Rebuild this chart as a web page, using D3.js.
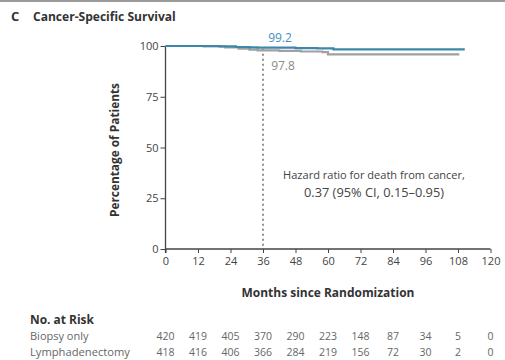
<!DOCTYPE html>
<html><head><meta charset="utf-8">
<script src="https://cdn.jsdelivr.net/npm/d3@7"></script>
<style>
body{margin:0;background:#fff;}
svg{display:block;font-family:"Open Sans",Lato,sans-serif;}
</style></head>
<body>
<svg id="c" width="505" height="360"></svg>
<script>
const xTicks = [0,12,24,36,48,60,72,84,96,108,120];
const yTicks = [0,25,50,75,100];
const biopsyMonths = [0,14,22,27,31,34,42,50,58,60,108.5];
const biopsyValues = [100,99.8,99.3,98.7,98.2,97.8,97.6,97.3,97.0,95.9,95.9];
const lymphMonths = [0,20,26,31,34,48,56,62,110.5];
const lymphValues = [100,99.8,99.5,99.3,99.2,99.0,98.8,98.3,98.3];
const riskGroups = ["Biopsy only","Lymphadenectomy"];
const riskBiopsy = [420,419,405,370,290,223,148,87,34,5,0];
const riskLymph = [418,416,406,366,284,219,156,72,30,2,0];

const FONT = "'Open Sans'";
const svg = d3.select("#c");
const x = d3.scaleLinear().domain([0,120]).range([165.5,490.5]);
const y = d3.scaleLinear().domain([0,100]).range([249,46]);

// fit text to target width
function fit(sel, w){ const n = sel.node(); const l = n.getComputedTextLength(); if(l>0){ const fs = parseFloat(sel.attr("font-size")); sel.attr("font-size", (fs*w/l).toFixed(2)); } return sel; }

// top border
svg.append("line").attr("x1",0).attr("x2",505).attr("y1",1).attr("y2",1).attr("stroke","#9a9a9a").attr("stroke-width",2);

// title
svg.append("text").attr("x",11).attr("y",21).attr("fill","#333").attr("font-weight","bold").attr("font-size",13).text("C");
fit(svg.append("text").attr("x",33).attr("y",21).attr("fill","#333").attr("font-weight","bold").attr("font-size",12).text("Cancer-Specific Survival"),143);

// axes
const xAxis = d3.axisBottom(x).tickValues(xTicks).tickSize(4).tickPadding(4);
const gx = svg.append("g").attr("transform","translate(0,249)").call(xAxis);
gx.select(".domain").attr("stroke","#444").attr("stroke-width",1.3).attr("d","M165.5,0H490.5");
gx.selectAll(".tick line").attr("stroke","#444");
gx.selectAll("text").attr("font-size",11).attr("fill","#444").attr("font-family",FONT);

const yAxis = d3.axisLeft(y).tickValues(yTicks).tickSize(5).tickPadding(2);
const gy = svg.append("g").attr("transform","translate(165.5,0)").call(yAxis);
gy.select(".domain").attr("stroke","#444").attr("stroke-width",1.3).attr("d","M0,46V253");
gy.selectAll(".tick line").attr("stroke","#444");
gy.selectAll("text").attr("font-size",11).attr("fill","#444").attr("font-family",FONT);

// axis titles
fit(svg.append("text").attr("transform","translate(119,150) rotate(-90)").attr("text-anchor","middle")
  .attr("font-size",11.5).attr("font-weight","bold").attr("fill","#333").text("Percentage of Patients"),134);
fit(svg.append("text").attr("x",328).attr("y",297).attr("text-anchor","middle")
  .attr("font-size",11.5).attr("font-weight","bold").attr("fill","#333").text("Months since Randomization"),173);

// 36-month dashed line
svg.append("line").attr("x1",x(36)).attr("x2",x(36)).attr("y1",y(98.6)).attr("y2",y(0))
  .attr("stroke","#555").attr("stroke-width",1.3).attr("stroke-dasharray","2,3");

// curves
const line = d3.line().x(d=>x(d[0])).y(d=>y(d[1])).curve(d3.curveStepAfter);
const bData = biopsyMonths.map((m,i)=>[m,biopsyValues[i]]);
const lData = lymphMonths.map((m,i)=>[m,lymphValues[i]]);
svg.append("path").datum(bData).attr("d",line).attr("fill","none").attr("stroke","#a0a0a0").attr("stroke-width",2.2);
svg.append("path").datum(lData).attr("d",line).attr("fill","none").attr("stroke","#3f86ad").attr("stroke-width",2.2);

// labels
svg.append("text").attr("x",x(36)+17).attr("y",42).attr("text-anchor","middle").attr("font-size",12).attr("fill","#3f8fbf").text("99.2");
svg.append("text").attr("x",x(36)+20).attr("y",70).attr("text-anchor","middle").attr("font-size",12).attr("fill","#8a8a8a").text("97.8");

// hazard ratio
fit(svg.append("text").attr("x",374).attr("y",179).attr("text-anchor","middle").attr("font-size",11).attr("fill","#444").text("Hazard ratio for death from cancer,"),182);
fit(svg.append("text").attr("x",374).attr("y",197).attr("text-anchor","middle").attr("font-size",11).attr("fill","#444").text("0.37 (95% CI, 0.15\u20130.95)"),140);

// risk table
fit(svg.append("text").attr("x",30).attr("y",324).attr("font-size",11.5).attr("font-weight","bold").attr("fill","#333").text("No. at Risk"),64);
const rows = [riskBiopsy, riskLymph];
rows.forEach((r,i)=>{
  const yy = 340 + i*15.5;
  const lab = svg.append("text").attr("x",30).attr("y",yy).attr("font-size",11).attr("fill","#666").text(riskGroups[i]);
  if(i===1) fit(lab,100);
  svg.selectAll(null).data(r).enter().append("text")
    .attr("x",(d,j)=>x(xTicks[j])).attr("y",yy).attr("text-anchor","middle")
    .attr("font-size",10.5).attr("fill","#666").text(d=>d);
});
</script>
</body></html>
